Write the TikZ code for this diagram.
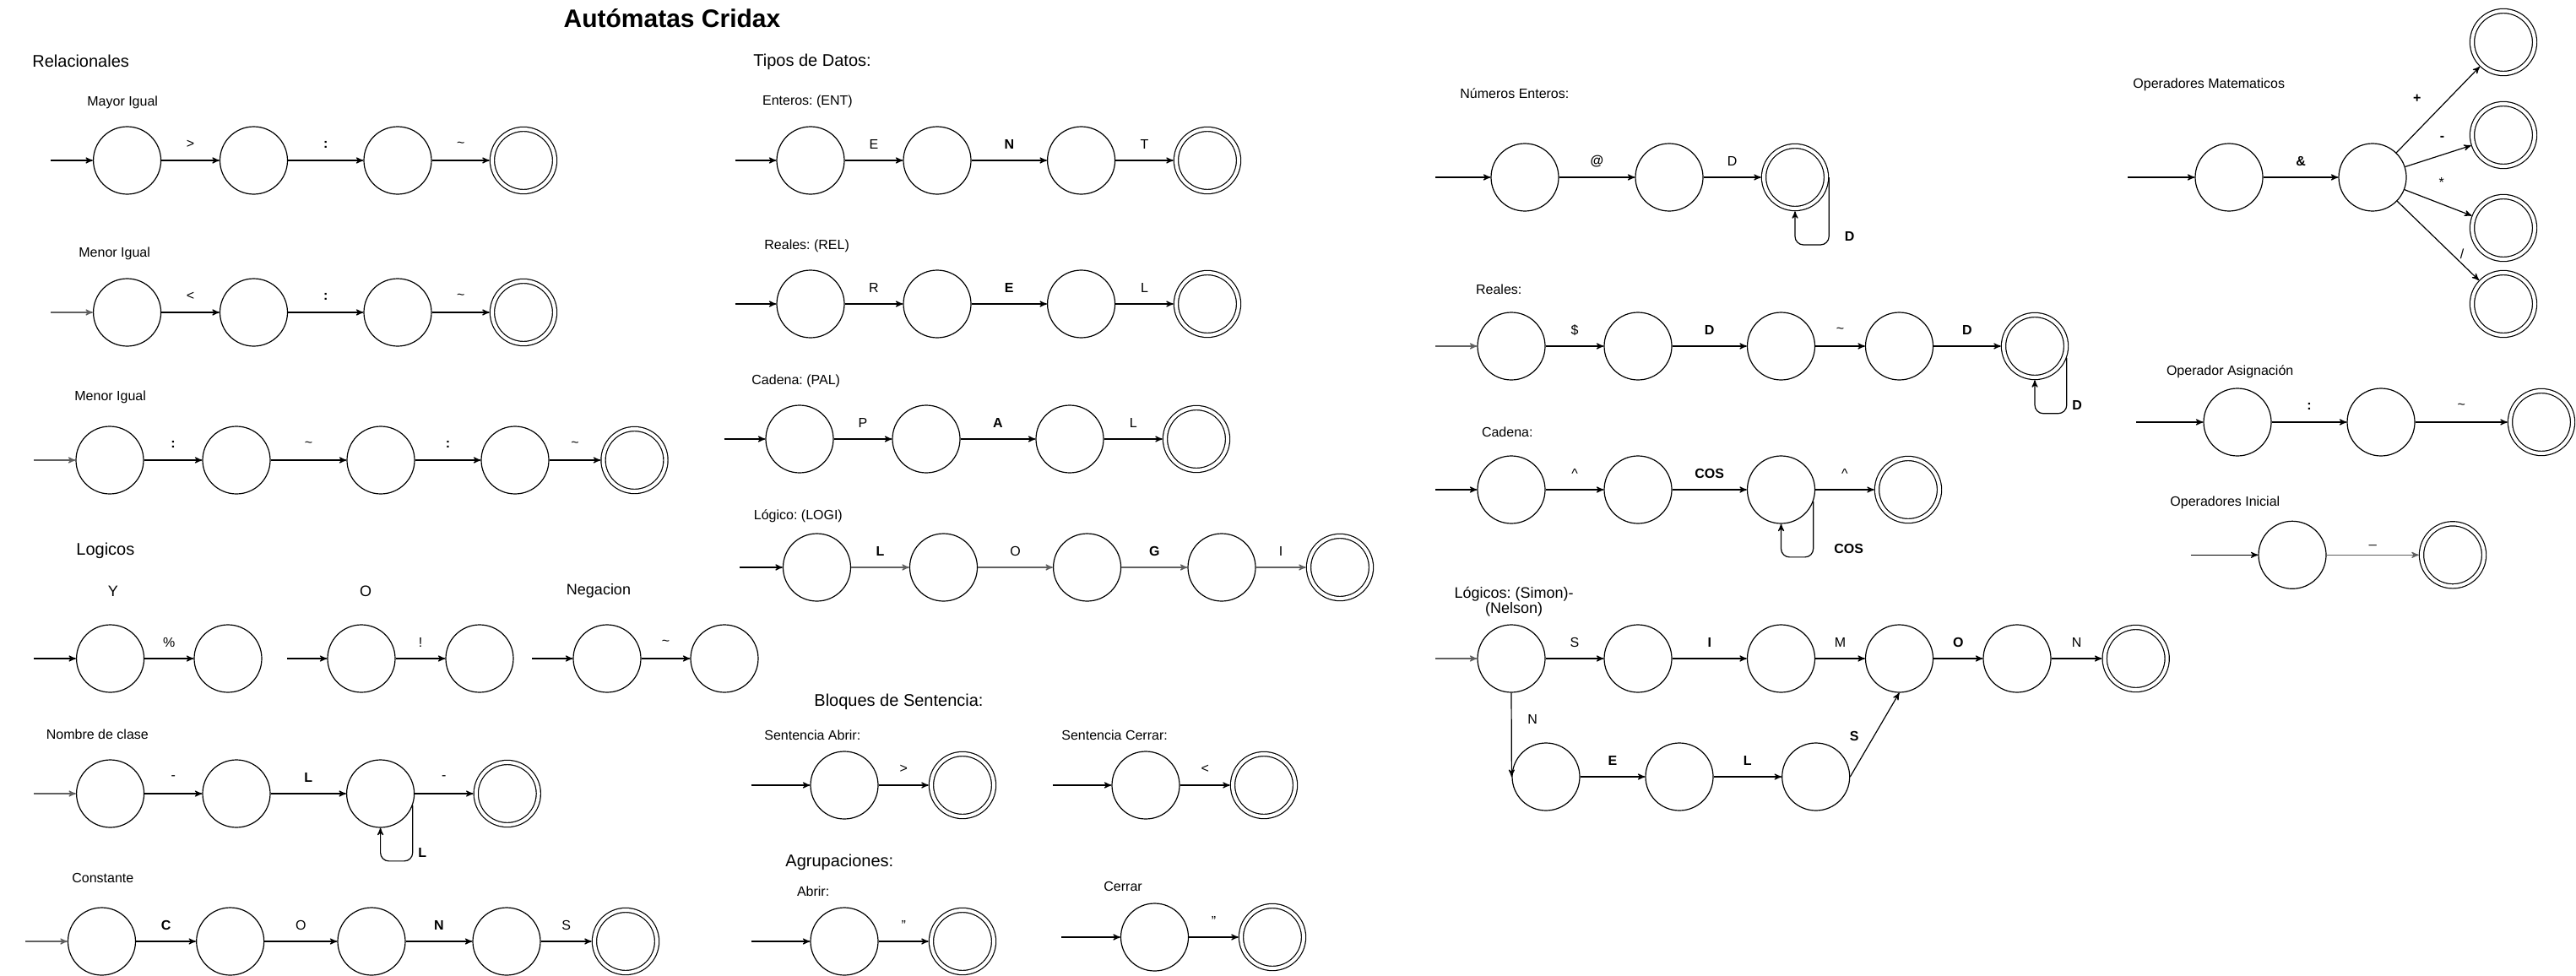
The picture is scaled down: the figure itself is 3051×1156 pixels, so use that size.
\documentclass[tikz,border=0pt]{standalone}
\usepackage{fontspec}
\setmainfont{Liberation Sans}
\usepackage{tikz}
\usetikzlibrary{arrows,positioning,shapes}
\usetikzlibrary{calc}
\frenchspacing

\begin{document}
\begin{tikzpicture}[x=0.5pt,y=-0.5pt,
  st/.style={draw,circle,line width=.6pt,minimum size=40pt,inner sep=0pt},
  acc/.style={st,double,double distance=2pt,minimum size=37pt,outer sep=1.6pt},
  to/.style={->,>=stealth',line width=.6pt},
  tog/.style={to,draw=gray!75!black},
  lp/.style={to,rounded corners=5pt},
  sym/.style={font=\fontsize{8}{9}\selectfont,inner sep=0pt},
  bsym/.style={font=\fontsize{8}{9}\selectfont\bfseries,inner sep=0pt},
  elab/.style={sym,midway,yshift=9.5pt},
  belab/.style={bsym,midway,yshift=9.5pt},
  lbl/.style={font=\fontsize{8}{9.6}\selectfont,anchor=west,inner sep=0pt},
  sub/.style={font=\fontsize{9}{9.2}\selectfont,inner sep=0pt},
  head/.style={font=\fontsize{10}{12}\selectfont,anchor=west,inner sep=0pt},
  every node/.style={align=center}]

    \useasboundingbox (0,0) rectangle (3051,1156);

    \node[font=\fontsize{15}{18}\selectfont\bfseries] (titulo) at (796,22) {Autómatas Cridax};

    % Relacionales
    \node[head] (hrel) at (38,72) {Relacionales};
    \node[lbl] (lmay) at (103,121) {Mayor Igual};
    \coordinate (mi0) at (60,190);
    \node[st] (mi1) at (150.6,190) {};
    \node[st] (mi2) at (300.5,190) {};
    \node[st] (mi3) at (471,190) {};
    \node[acc] (mi4) at (620,190) {};
    \draw[to] (mi0) -- (mi1);
    \draw[to] (mi1) -- node[elab]{>} (mi2);
    \draw[to] (mi2) -- node[belab]{:} (mi3);
    \draw[to] (mi3) -- node[elab]{\textasciitilde} (mi4);

    \node[lbl] (lmen) at (93,300) {Menor Igual};
    \coordinate (me0) at (60,370);
    \node[st] (me1) at (150.6,370) {};
    \node[st] (me2) at (300.5,370) {};
    \node[st] (me3) at (471,370) {};
    \node[acc] (me4) at (620,370) {};
    \draw[tog] (me0) -- (me1);
    \draw[to] (me1) -- node[elab]{<} (me2);
    \draw[to] (me2) -- node[belab]{:} (me3);
    \draw[to] (me3) -- node[elab]{\textasciitilde} (me4);

    \node[lbl] (lmen2) at (88,470.7) {Menor Igual};
    \coordinate (mg0) at (40,545);
    \node[st] (mg1) at (130,545) {};
    \node[st] (mg2) at (280,545) {};
    \node[st] (mg3) at (451,545) {};
    \node[st] (mg4) at (610,545) {};
    \node[acc] (mg5) at (751.5,545) {};
    \draw[tog] (mg0) -- (mg1);
    \draw[to] (mg1) -- node[belab]{:} (mg2);
    \draw[to] (mg2) -- node[elab]{\textasciitilde} (mg3);
    \draw[to] (mg3) -- node[belab]{:} (mg4);
    \draw[to] (mg4) -- node[elab]{\textasciitilde} (mg5);

    % Logicos
    \node[head] (hlog) at (90,652) {Logicos};
    \node[sub] (ly) at (134,700) {Y};
    \node[sub] (lo) at (433,700) {O};
    \node[sub] (lneg) at (709,700) {Negacion};
    \coordinate (y0) at (40,780);
    \node[st] (y1) at (130.6,780) {};
    \node[st] (y2) at (270,780) {};
    \coordinate (o0) at (340,780);
    \node[st] (o1) at (428,780) {};
    \node[st] (o2) at (568,780) {};
    \coordinate (ng0) at (630,780);
    \node[st] (ng1) at (719,780) {};
    \node[st] (ng2) at (858,780) {};
    \draw[to] (y0) -- (y1);
    \draw[to] (y1) -- node[elab]{\%} (y2);
    \draw[to] (o0) -- (o1);
    \draw[to] (o1) -- node[elab]{!} (o2);
    \draw[to] (ng0) -- (ng1);
    \draw[to] (ng1) -- node[elab]{\textasciitilde} (ng2);

    \node[lbl] (lnom) at (54.5,870) {Nombre de clase};
    \coordinate (nc0) at (40,940);
    \node[st] (nc1) at (130.6,940) {};
    \node[st] (nc2) at (280,940) {};
    \node[st] (nc3) at (450.6,940) {};
    \node[acc] (nc4) at (600.8,940) {};
    \draw[tog] (nc0) -- (nc1);
    \draw[to] (nc1) -- node[elab]{-} (nc2);
    \draw[to] (nc2) -- node[belab]{L} (nc3);
    \draw[to] (nc3) -- node[elab]{-} (nc4);
    \draw[lp] (nc3.-20) -- ++(0,66) node[bsym,pos=.85,right=3pt]{L} -| (nc3.south);

    \node[lbl] (lcon) at (85,1040) {Constante};
    \coordinate (ct0) at (30,1115);
    \node[st] (ct1) at (120.5,1115) {};
    \node[st] (ct2) at (272.7,1115) {};
    \node[st] (ct3) at (440,1115) {};
    \node[st] (ct4) at (600,1115) {};
    \node[acc] (ct5) at (741,1115) {};
    \draw[tog] (ct0) -- (ct1);
    \draw[to] (ct1) -- node[belab]{C} (ct2);
    \draw[to] (ct2) -- node[elab]{O} (ct3);
    \draw[to] (ct3) -- node[belab]{N} (ct4);
    \draw[to] (ct4) -- node[elab]{S} (ct5);

    % Tipos de datos
    \node[head] (htip) at (892,73) {Tipos de Datos:};
    \node[lbl] (lent) at (902.7,120) {Enteros: (ENT)};
    \coordinate (en0) at (870.5,190);
    \node[st] (en1) at (960,190) {};
    \node[st] (en2) at (1110,190) {};
    \node[st] (en3) at (1280.6,190) {};
    \node[acc] (en4) at (1430,190) {};
    \draw[to] (en0) -- (en1);
    \draw[to] (en1) -- node[elab]{E} (en2);
    \draw[to] (en2) -- node[belab]{N} (en3);
    \draw[to] (en3) -- node[elab]{T} (en4);

    \node[lbl] (lrel) at (905,291) {Reales: (REL)};
    \coordinate (re0) at (870.5,360);
    \node[st] (re1) at (960,360) {};
    \node[st] (re2) at (1110,360) {};
    \node[st] (re3) at (1280.6,360) {};
    \node[acc] (re4) at (1430,360) {};
    \draw[to] (re0) -- (re1);
    \draw[to] (re1) -- node[elab]{R} (re2);
    \draw[to] (re2) -- node[belab]{E} (re3);
    \draw[to] (re3) -- node[elab]{L} (re4);

    \node[lbl] (lpal) at (890,451.7) {Cadena: (PAL)};
    \coordinate (pa0) at (857.7,520);
    \node[st] (pa1) at (947,520) {};
    \node[st] (pa2) at (1097,520) {};
    \node[st] (pa3) at (1267,520) {};
    \node[acc] (pa4) at (1417,520) {};
    \draw[to] (pa0) -- (pa1);
    \draw[to] (pa1) -- node[elab]{P} (pa2);
    \draw[to] (pa2) -- node[belab]{A} (pa3);
    \draw[to] (pa3) -- node[elab]{L} (pa4);

    \node[lbl] (llog) at (892.5,611.7) {Lógico: (LOGI)};
    \coordinate (lg0) at (876.4,672);
    \node[st] (lg1) at (967.5,672) {};
    \node[st] (lg2) at (1117.5,672) {};
    \node[st] (lg3) at (1287.6,672) {};
    \node[st] (lg4) at (1447,672) {};
    \node[acc] (lg5) at (1587,672) {};
    \draw[to] (lg0) -- (lg1);
    \draw[tog] (lg1) -- node[belab]{L} (lg2);
    \draw[tog] (lg2) -- node[elab]{O} (lg3);
    \draw[tog] (lg3) -- node[belab]{G} (lg4);
    \draw[tog] (lg4) -- node[elab]{I} (lg5);

    % Bloques de sentencia
    \node[head] (hblo) at (964,831.7) {Bloques de Sentencia:};
    \node[lbl] (lsab) at (905,870.7) {Sentencia Abrir:};
    \coordinate (sa0) at (889.7,930);
    \node[st] (sa1) at (1000,930) {};
    \node[acc] (sa2) at (1140,930) {};
    \draw[to] (sa0) -- (sa1);
    \draw[to] (sa1) -- node[elab]{>} (sa2);
    \node[lbl] (lsce) at (1257,870.7) {Sentencia Cerrar:};
    \coordinate (sc0) at (1247,930);
    \node[st] (sc1) at (1357,930) {};
    \node[acc] (sc2) at (1497,930) {};
    \draw[to] (sc0) -- (sc1);
    \draw[to] (sc1) -- node[elab]{<} (sc2);

    % Agrupaciones
    \node[head] (hagr) at (930,1021.7) {Agrupaciones:};
    \node[lbl] (labr) at (943.6,1056) {Abrir:};
    \coordinate (ab0) at (889.7,1115);
    \node[st] (ab1) at (1000,1115) {};
    \node[acc] (ab2) at (1140,1115) {};
    \draw[to] (ab0) -- (ab1);
    \draw[to] (ab1) -- node[elab]{"} (ab2);
    \node[lbl] (lcer) at (1307,1050) {Cerrar};
    \coordinate (ce0) at (1257,1110);
    \node[st] (ce1) at (1367.5,1110) {};
    \node[acc] (ce2) at (1507,1110) {};
    \draw[to] (ce0) -- (ce1);
    \draw[to] (ce1) -- node[elab]{"} (ce2);

    % Numeros enteros
    \node[lbl] (lnum) at (1729,110.7) {Números Enteros:};
    \coordinate (ne0) at (1700,210);
    \node[st] (ne1) at (1806,210) {};
    \node[st] (ne2) at (1977,210) {};
    \node[acc] (ne3) at (2126,210) {};
    \draw[to] (ne0) -- (ne1);
    \draw[to] (ne1) -- node[belab]{@} (ne2);
    \draw[to] (ne2) -- node[elab]{D} (ne3);
    \draw[lp] (ne3.east) -- ++(0,80) node[bsym,pos=.875,right=9pt]{D} -| (ne3.south);

    % Reales
    \node[lbl] (lrea) at (1747.7,342.7) {Reales:};
    \coordinate (rr0) at (1700,410);
    \node[st] (rr1) at (1790,410) {};
    \node[st] (rr2) at (1940,410) {};
    \node[st] (rr3) at (2109.5,410) {};
    \node[st] (rr4) at (2249.5,410) {};
    \node[acc] (rr5) at (2410,410) {};
    \draw[tog] (rr0) -- (rr1);
    \draw[to] (rr1) -- node[elab]{\$} (rr2);
    \draw[to] (rr2) -- node[belab]{D} (rr3);
    \draw[to] (rr3) -- node[elab]{\textasciitilde} (rr4);
    \draw[to] (rr4) -- node[belab]{D} (rr5);
    \draw[lp] (rr5.-20) -- ++(0,66) node[bsym,pos=.85,right=3pt]{D} -| (rr5.south);

    % Cadena
    \node[lbl] (lcad) at (1754.6,511.7) {Cadena:};
    \coordinate (cd0) at (1700,580);
    \node[st] (cd1) at (1790,580) {};
    \node[st] (cd2) at (1940,580) {};
    \node[st] (cd3) at (2109.5,580) {};
    \node[acc] (cd4) at (2260,580) {};
    \draw[to] (cd0) -- (cd1);
    \draw[to] (cd1) -- node[elab]{\textasciicircum} (cd2);
    \draw[to] (cd2) -- node[belab]{COS} (cd3);
    \draw[to] (cd3) -- node[elab]{\textasciicircum} (cd4);
    \draw[lp] (cd3.-20) -- ++(0,66) node[bsym,pos=.85,right=12pt]{COS} -| (cd3.south);

    % Logicos Simon / Nelson
    \node[sub] (lsim) at (1793,712.5) {Lógicos: (Simon)-\\(Nelson)};
    \coordinate (sn0) at (1700,780);
    \node[st] (sn1) at (1790,780) {};
    \node[st] (sn2) at (1940,780) {};
    \node[st] (sn3) at (2109.5,780) {};
    \node[st] (sn4) at (2249.5,780) {};
    \node[st] (sn5) at (2389,780) {};
    \node[acc] (sn6) at (2529.7,780) {};
    \node[st] (nl1) at (1831,920) {};
    \node[st] (nl2) at (1989,920) {};
    \node[st] (nl3) at (2150.7,920) {};
    \draw[tog] (sn0) -- (sn1);
    \draw[to] (sn1) -- node[elab]{S} (sn2);
    \draw[to] (sn2) -- node[belab]{I} (sn3);
    \draw[to] (sn3) -- node[elab]{M} (sn4);
    \draw[to] (sn4) -- node[belab]{O} (sn5);
    \draw[to] (sn5) -- node[elab]{N} (sn6);
    \draw[to] (sn1.south) -- node[sym,pos=.32,xshift=12.5pt]{N} (nl1.west);
    \draw[to] (nl1) -- node[belab]{E} (nl2);
    \draw[to] (nl2) -- node[belab]{L} (nl3);
    \draw[to] (nl3.east) -- node[bsym,pos=.48,xshift=-11.5pt]{S} (sn4.south);

    % Operadores matematicos
    \node[lbl] (lopm) at (2526,100) {Operadores Matematicos};
    \coordinate (om0) at (2520,210);
    \node[st] (om1) at (2640,210) {};
    \node[st] (om2) at (2810,210) {};
    \node[acc] (op1) at (2965,50) {};
    \node[acc] (op2) at (2965,160) {};
    \node[acc] (op3) at (2965,270) {};
    \node[acc] (op4) at (2965,360) {};
    \draw[to] (om0) -- (om1);
    \draw[to] (om1) -- node[belab]{\&} (om2);
    \draw[to] (om2) -- node[bsym,pos=.63,xshift=-18.8pt]{+} (op1);
    \draw[to] (om2) -- node[bsym,pos=.56,yshift=9.5pt]{-} (op2);
    \draw[to] (om2) -- node[sym,pos=.55,yshift=12.7pt]{*} (op3);
    \draw[to] (om2) -- node[sym,pos=.67,xshift=6pt]{/} (op4);

    % Operador asignacion
    \node[lbl] (lasi) at (2565.6,440) {Operador Asignación};
    \coordinate (as0) at (2530,500);
    \node[st] (as1) at (2650,500) {};
    \node[st] (as2) at (2820,500) {};
    \node[acc] (as3) at (3010,500) {};
    \draw[to] (as0) -- (as1);
    \draw[to] (as1) -- node[belab]{:} (as2);
    \draw[to] (as2) -- node[elab]{\textasciitilde} (as3);

    % Operadores inicial
    \node[lbl] (lini) at (2570,595) {Operadores Inicial};
    \coordinate (oi0) at (2594.7,657.3);
    \node[st] (oi1) at (2715,657.3) {};
    \node[acc] (oi2) at (2905,657.3) {};
    \draw[to] (oi0) -- (oi1);
    \draw[tog] (oi1) -- node[elab,yshift=-3.5pt]{\_} (oi2);
\end{tikzpicture}
\end{document}
